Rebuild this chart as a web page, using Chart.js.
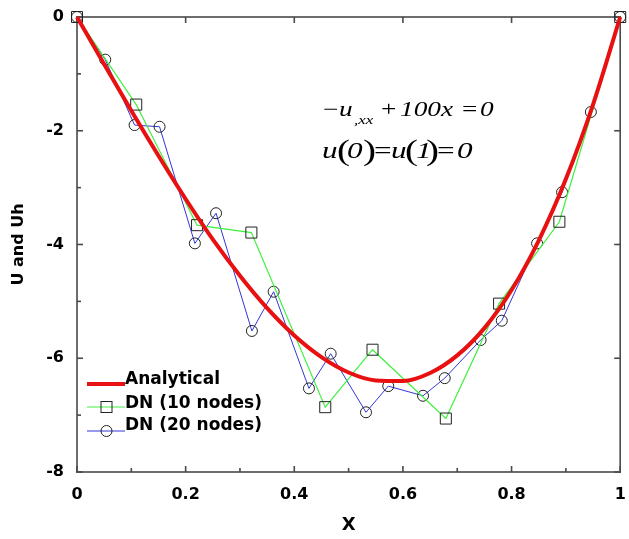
<!DOCTYPE html>
<html>
<head>
<meta charset="utf-8">
<script src="https://cdn.jsdelivr.net/npm/chart.js@4/dist/chart.umd.min.js"></script>
<style>
  html, body { margin: 0; padding: 0; background: #fff; }
  canvas { display: block; }
</style>
</head>
<body>
<canvas id="c" width="629" height="539"></canvas>
<script>
// ---- data ----
const analyticalX = [0, 0.05, 0.1, 0.15, 0.2, 0.25, 0.3, 0.35, 0.4, 0.45, 0.5, 0.55, 0.6, 0.65, 0.7, 0.75, 0.8, 0.85, 0.9, 0.95, 1];
const analyticalY = [0, -0.83, -1.65, -2.44, -3.2, -3.91, -4.55, -5.12, -5.6, -5.98, -6.25, -6.39, -6.4, -6.26, -5.95, -5.47, -4.8, -3.93, -2.85, -1.54, 0];

const dn10X = [0, 0.109, 0.221, 0.321, 0.457, 0.544, 0.679, 0.777, 0.888, 1];
const dn10Y = [0, -1.54, -3.66, -3.79, -6.86, -5.85, -7.06, -5.04, -3.6, 0];

const dn20X = [0, 0.052, 0.106, 0.152, 0.217, 0.256, 0.322, 0.362, 0.427, 0.467, 0.532, 0.573, 0.637, 0.677, 0.743, 0.782, 0.847, 0.893, 0.946, 1];
const dn20Y = [0, -0.75, -1.9, -1.93, -3.98, -3.45, -5.52, -4.83, -6.53, -5.92, -6.95, -6.49, -6.66, -6.35, -5.68, -5.34, -3.98, -3.08, -1.67, 0];

const xTickValues = [0, 0.2, 0.4, 0.6, 0.8, 1];
const xTickLabels = ['0', '0.2', '0.4', '0.6', '0.8', '1'];
const xMinorTicks = [0.1, 0.3, 0.5, 0.7, 0.9];
const yTickValues = [-8, -6, -4, -2, 0];
const yTickLabels = ['-8', '-6', '-4', '-2', '0'];
const yMinorTicks = [-7, -5, -3, -1];

const seriesNames = ['Analytical', 'DN (10 nodes)', 'DN (20 nodes)'];

// ---- build datasets ----
const pts = (xs, ys) => xs.map((x, i) => ({ x: x, y: ys[i] }));

const RED = '#e81010', GREEN = '#40f040', BLUE = '#3535d8';
const FRAME = '#4a4a4a';
const TICKFONT = { family: 'DejaVu Sans', weight: 'bold', size: 16 };

function drawFrame(chart) {
  const ctx = chart.ctx;
  const xs = chart.scales.x, ys = chart.scales.y;
  const L = xs.getPixelForValue(0), R = xs.getPixelForValue(1);
  const T = ys.getPixelForValue(0), B = ys.getPixelForValue(-8);
  const w = 1.6, h = w / 2;
  ctx.save();
  ctx.fillStyle = FRAME;
  ctx.fillRect(L - h, T - h, R - L + w, w);
  ctx.fillRect(L - h, B - h, R - L + w, w);
  ctx.fillRect(L - h, T - h, w, B - T + w);
  ctx.fillRect(R - h, T - h, w, B - T + w);
  const MAJ = 6, MIN = 4;
  xTickValues.forEach(v => {
    const px = xs.getPixelForValue(v);
    ctx.fillRect(px - h, B - MAJ, w, MAJ);
    ctx.fillRect(px - h, T, w, MAJ);
  });
  xMinorTicks.forEach(v => {
    const px = xs.getPixelForValue(v);
    ctx.fillRect(px - h, B - MIN, w, MIN);
  });
  yTickValues.forEach(v => {
    const py = ys.getPixelForValue(v);
    ctx.fillRect(L, py - h, MAJ, w);
    ctx.fillRect(R - MAJ, py - h, MAJ, w);
  });
  yMinorTicks.forEach(v => {
    const py = ys.getPixelForValue(v);
    ctx.fillRect(L, py - h, MIN, w);
  });
  ctx.restore();
}

function drawLegendAndEquation(chart) {
  const ctx = chart.ctx;
  ctx.save();
  const lx0 = 87, lx1 = 125, mx = 106.5;
  const rows = [
    { y: 384, color: RED, width: 4, marker: null },
    { y: 407, color: GREEN, width: 1.2, marker: 'rect' },
    { y: 431, color: BLUE, width: 1, marker: 'circle' }
  ];
  rows.forEach(r => {
    ctx.strokeStyle = r.color;
    ctx.lineWidth = r.width;
    ctx.beginPath();
    ctx.moveTo(lx0, r.y); ctx.lineTo(lx1, r.y);
    ctx.stroke();
    ctx.strokeStyle = '#222';
    ctx.lineWidth = 1;
    if (r.marker === 'rect') {
      ctx.strokeRect(mx - 5.5, r.y - 5.5, 11, 11);
    } else if (r.marker === 'circle') {
      ctx.beginPath(); ctx.arc(mx, r.y, 5.5, 0, Math.PI * 2); ctx.stroke();
    }
  });
  ctx.fillStyle = '#000';
  ctx.font = 'bold 17px "DejaVu Sans"';
  ctx.textBaseline = 'alphabetic';
  ctx.textAlign = 'left';
  ctx.fillText(seriesNames[0], 125, 384);
  ctx.fillText(seriesNames[1], 125, 407.5);
  ctx.fillText(seriesNames[2], 125, 430);

  // equation, in a horizontally stretched serif as in the figure
  const SERIF = '"Liberation Serif", "Times New Roman", serif';
  const up = (s) => `${s}px ${SERIF}`;
  const it = (s) => `italic ${s}px ${SERIF}`;
  const SX = 1.3;
  function put(t, f, x, base) {
    ctx.save();
    ctx.translate(x, base);
    ctx.scale(SX, 1);
    ctx.font = f;
    ctx.fillText(t, 0, 0);
    ctx.restore();
  }
  const b1 = 116;
  put('\u2212', up(21), 323, b1);
  put('u', it(21), 339, b1);
  put(',xx', it(13), 354, b1 + 8);
  put('+', up(21), 381, b1);
  put('100x', it(21), 400, b1);
  put('=', up(21), 462, b1);
  put('0', it(21), 480, b1);
  const b2 = 158;
  put('u', it(24), 322, b2);
  put('(', up(30), 337, b2 + 2);
  put('0', it(24), 347, b2);
  put(')', up(30), 363, b2 + 2);
  put('=', up(24), 374, b2);
  put('u', it(24), 391, b2);
  put('(', up(30), 405, b2 + 2);
  put('1', it(24), 416, b2);
  put(')', up(30), 426, b2 + 2);
  put('=', up(24), 437, b2);
  put('0', it(24), 457, b2);
  ctx.restore();
}

const framePlugin = {
  id: 'boxFrame',
  beforeDatasetsDraw(chart) { drawFrame(chart); },
  afterDraw(chart) { drawLegendAndEquation(chart); }
};

new Chart(document.getElementById('c'), {
  type: 'line',
  data: {
    datasets: [
      { label: seriesNames[0], data: pts(analyticalX, analyticalY),
        borderColor: RED, borderWidth: 4, pointRadius: 0, cubicInterpolationMode: 'monotone',
        clip: false, order: 0 },
      { label: seriesNames[1], data: pts(dn10X, dn10Y),
        borderColor: GREEN, borderWidth: 1.2, pointStyle: 'rect', pointRadius: 7.8,
        pointBorderColor: '#222', pointBackgroundColor: 'rgba(0,0,0,0)', pointBorderWidth: 1,
        tension: 0, clip: false, order: 1 },
      { label: seriesNames[2], data: pts(dn20X, dn20Y),
        borderColor: BLUE, borderWidth: 1, pointStyle: 'circle', pointRadius: 5.5,
        pointBorderColor: '#222', pointBackgroundColor: 'rgba(0,0,0,0)', pointBorderWidth: 1,
        tension: 0, clip: false, order: 2 }
    ]
  },
  options: {
    responsive: false,
    animation: false,
    events: [],
    layout: { padding: { top: 17, right: 2, left: 0, bottom: 0 } },
    plugins: { legend: { display: false }, tooltip: { enabled: false } },
    scales: {
      x: {
        type: 'linear', min: 0, max: 1,
        afterBuildTicks: s => { s.ticks = xTickValues.map(v => ({ value: v })); },
        ticks: { font: TICKFONT, color: '#000', padding: 13, maxRotation: 0,
                 callback: (v, i) => xTickLabels[i] },
        grid: { display: false, drawTicks: false },
        border: { display: false },
        title: { display: true, text: 'X', color: '#000',
                 font: { family: 'DejaVu Sans', weight: 'bold', size: 18 }, padding: { top: 0, bottom: 3 } },
        afterFit: s => { s.height = 67; s.paddingLeft = 0; s.paddingRight = 0; }
      },
      y: {
        type: 'linear', min: -8, max: 0,
        afterBuildTicks: s => { s.ticks = yTickValues.map(v => ({ value: v })); },
        ticks: { font: TICKFONT, color: '#000', padding: 13,
                 callback: (v, i) => yTickLabels[i] },
        grid: { display: false, drawTicks: false },
        border: { display: false },
        title: { display: true, text: 'U and Uh', color: '#000',
                 font: { family: 'DejaVu Sans', weight: 'bold', size: 16 }, padding: { top: 9, bottom: 0 } },
        afterFit: s => { s.width = 77; s.paddingTop = 0; s.paddingBottom = 0; }
      }
    }
  },
  plugins: [framePlugin]
});
</script>
</body>
</html>
